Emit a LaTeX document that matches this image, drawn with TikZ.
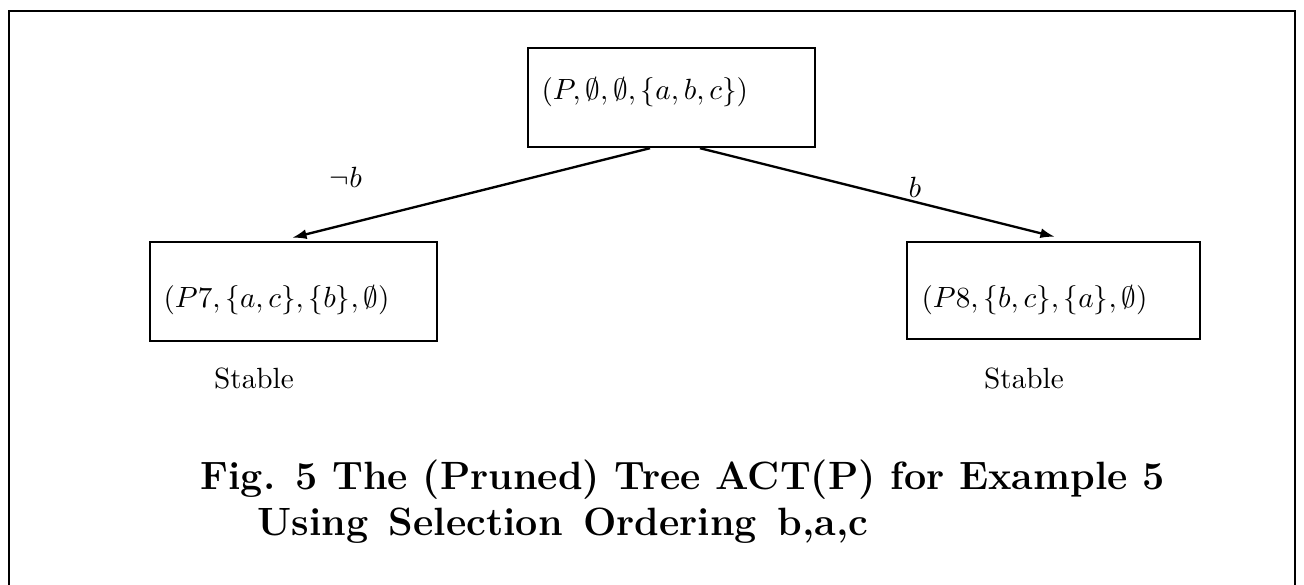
\documentclass[tikz,border=0pt]{standalone}
\usetikzlibrary{arrows.meta,calc}
\begin{document}
\begin{tikzpicture}[x=0.342pt,y=-0.342pt,
  frame/.style={draw,line width=0.75pt},
  box/.style={draw,line width=0.8pt,inner sep=0pt,rectangle},
  boxtext/.style={anchor=west,inner sep=0pt},
  arr/.style={line width=0.8pt,-{Latex[length=5pt,width=3.4pt]}},
  lbl/.style={inner sep=0pt},
  captext/.style={anchor=base west,inner sep=0pt,font=\fontsize{13.5}{16}\selectfont\bfseries}]
\useasboundingbox (0,0) rectangle (1304,585);
\fill[white] (0,0) rectangle (1304,585);
% outer frame (open at bottom)
\draw[frame] (9,585) -- (9,11) -- (1295,11) -- (1295,585);
% boxes
\node[box,minimum width=98.15pt,minimum height=33.86pt] (top) at (671.5,97.5) {};
\node[box,minimum width=98.15pt,minimum height=33.86pt] (left) at (293.5,291.5) {};
\node[box,minimum width=100.2pt,minimum height=33.17pt] (right) at (1053.5,290.5) {};
% box texts
\node[boxtext] (toptext) at (541,92) {$(P,\emptyset,\emptyset,\{a,b,c\})$};
\node[boxtext] (lefttext) at (163,300) {$(P7,\{a,c\},\{b\},\emptyset)$};
\node[boxtext] (righttext) at (921,300) {$(P8,\{b,c\},\{a\},\emptyset)$};
% connectors
\draw[arr] ($(top.south)+(-21.5,0)$) -- ($(left.north)+(-1.5,-3)$);
\draw[arr] ($(top.south)+(28.5,0)$) -- ($(right.north)+(1.5,-4)$);
\node[lbl] (lnegb) at (346,177) {$\neg b$};
\node[lbl] (lb) at (915,187) {$b$};
% status
\node[lbl] (stab1) at (254,379) {Stable};
\node[lbl] (stab2) at (1024,379) {Stable};
% caption
\node[captext] (cap1) at (200,489) {Fig. 5 The (Pruned) Tree ACT(P) for Example 5};
\node[captext] (cap2) at (257,535) {\spaceskip=7pt plus 1pt Using Selection Ordering b,a,c};
\end{tikzpicture}
\end{document}
